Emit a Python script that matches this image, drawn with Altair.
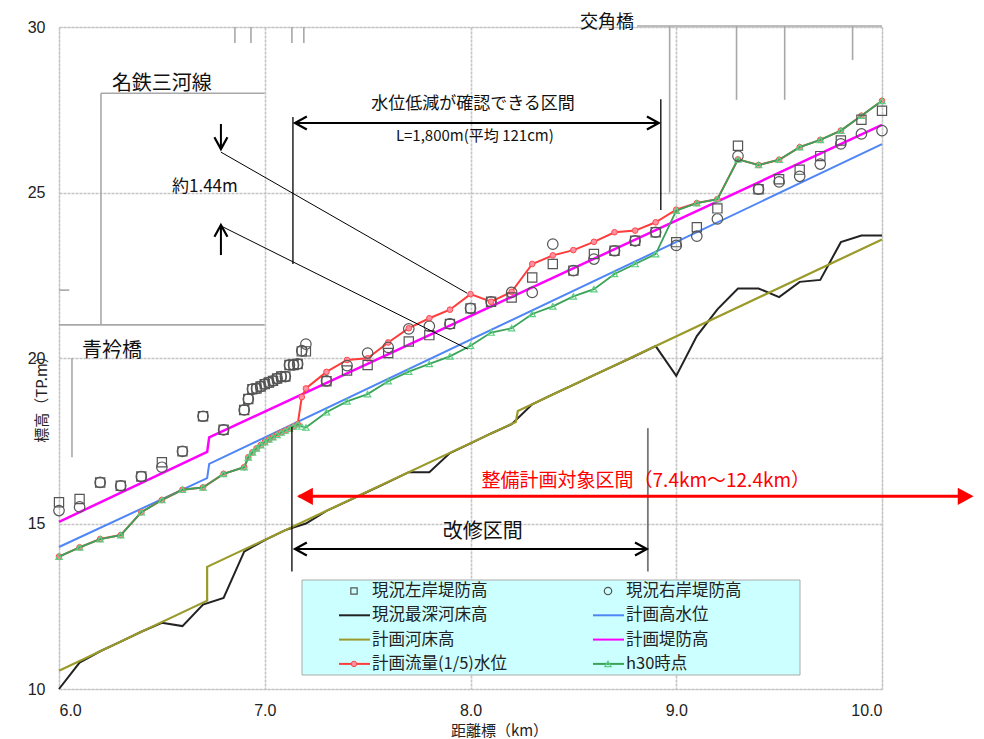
import altair as alt
import pandas as pd

# ---------------- data ----------------
levee_km = [6.0, 6.1, 6.2, 6.3, 6.4, 6.5, 6.6, 6.7, 6.8, 6.9,
            6.92, 6.94, 6.96, 6.98, 7.0, 7.02, 7.04, 7.06, 7.08, 7.1, 7.12, 7.14, 7.16, 7.18, 7.2,
            7.3, 7.4, 7.5, 7.6, 7.7, 7.8, 7.9, 8.0, 8.1, 8.2, 8.3, 8.4, 8.5, 8.6, 8.7, 8.8, 8.9,
            9.0, 9.1, 9.2, 9.3, 9.4, 9.5, 9.6, 9.7, 9.8, 9.9, 10.0]
left_levee = [15.64, 15.74, 16.24, 16.14, 16.42, 16.85, 17.18, 18.24, 17.83, 18.43,
              18.76, 19.06, 19.08, 19.14, 19.21, 19.26, 19.31, 19.38, 19.44, 19.44, 19.79, 19.79, 19.82, 20.2, 20.2,
              19.3, 19.62, 19.79, 20.15, 20.5, 20.69, 21.03, 21.5, 21.7, 21.83, 22.43, 22.84, 22.64, 23.14, 23.24, 23.54, 23.8,
              23.5, 23.95, 24.52, 26.41, 25.1, 25.4, 25.69, 26.1, 26.57, 27.2, 27.47]
right_levee = [15.39, 15.5, 16.24, 16.14, 16.42, 16.7, 17.18, 18.24, 17.83, 18.43,
               18.76, 19.06, 19.08, 19.14, 19.21, 19.26, 19.31, 19.38, 19.44, 19.44, 19.79, 19.79, 19.82, 20.22, 20.42,
               19.31, 19.77, 20.15, 20.32, 20.88, 20.96, 21.03, 21.5, 21.7, 21.98, 21.98, 23.44, 22.64, 22.99, 23.24, 23.54, 23.8,
               23.4, 23.68, 24.2, 26.1, 25.1, 25.32, 25.49, 25.86, 26.47, 26.77, 26.87]

flow_km = [6.0, 6.1, 6.2, 6.3, 6.4, 6.5, 6.6, 6.7, 6.8, 6.9,
           6.92, 6.94, 6.96, 6.98, 7.0, 7.02, 7.04, 7.06, 7.08, 7.1, 7.12, 7.14, 7.16,
           7.18, 7.2,
           7.3, 7.4, 7.5, 7.6, 7.7, 7.8, 7.9, 8.0, 8.1, 8.2, 8.3, 8.4, 8.5, 8.6, 8.7, 8.8, 8.9,
           9.0, 9.1, 9.2, 9.3, 9.4, 9.5, 9.6, 9.7, 9.8, 9.9, 10.0]
flow_1_5 = [14.0, 14.28, 14.53, 14.65, 15.34, 15.71, 16.02, 16.09, 16.5, 16.7,
            17.0, 17.15, 17.27, 17.37, 17.46, 17.54, 17.61, 17.68, 17.75, 17.81, 17.87, 17.93, 18.0,
            18.82, 19.08,
            19.58, 19.94, 19.99, 20.47, 20.9, 21.2, 21.46, 21.93, 21.7, 22.0, 22.84, 23.1, 23.26, 23.51, 23.8, 23.85, 24.1,
            24.48, 24.68, 24.8, 26.0, 25.83, 25.99, 26.37, 26.59, 26.87, 27.32, 27.77]
h30 = [14.0, 14.28, 14.53, 14.65, 15.34, 15.71, 16.02, 16.09, 16.5, 16.7,
       17.0, 17.15, 17.27, 17.37, 17.46, 17.54, 17.61, 17.68, 17.75, 17.81, 17.87, 17.93, 18.0,
       17.93, 17.9,
       18.36, 18.69, 18.91, 19.3, 19.59, 19.82, 20.05, 20.37, 20.77, 20.9, 21.33, 21.56, 21.86, 22.08, 22.54, 22.84, 23.14,
       24.45, 24.68, 24.8, 26.0, 25.83, 25.99, 26.37, 26.59, 26.87, 27.32, 27.77]

bed_km = [6.0, 6.1, 6.2, 6.3, 6.4, 6.5, 6.6, 6.7, 6.8, 6.9,
          7.0, 7.1, 7.2, 7.3, 7.4, 7.5, 7.6, 7.7, 7.8, 7.9,
          8.0, 8.1, 8.2, 8.3, 8.4, 8.5, 8.6, 8.7, 8.8, 8.9,
          9.0, 9.1, 9.2, 9.3, 9.4, 9.5, 9.6, 9.7, 9.8, 9.9, 10.0]
bed_now = [10.0, 10.8, 11.14, 11.43, 11.73, 12.0, 11.9, 12.55, 12.75, 14.15,
           14.5, 14.8, 15.0, 15.38, 15.67, 15.96, 16.25, 16.55, 16.55, 17.13,
           17.42, 17.72, 18.0, 18.6, 18.9, 19.19, 19.48, 19.77, 20.06, 20.36,
           19.46, 20.66, 21.47, 22.1, 22.1, 21.84, 22.3, 22.36, 23.5, 23.7, 23.7]

plan_bed_km = [6.0, 6.72, 6.72, 8.22, 8.23, 10.0]
plan_bed = [10.55, 12.67, 13.69, 18.07, 18.4, 23.58]
hwl_km = [6.0, 6.72, 6.73, 10.0]
hwl = [14.29, 16.37, 16.8, 26.46]
plan_levee_km = [6.0, 6.72, 6.73, 10.0]
plan_levee = [15.05, 17.16, 17.6, 27.04]

x_ticks = [6, 7, 8, 9, 10]
y_ticks = [10, 15, 20, 25, 30]

legend_labels = ["現況左岸堤防高", "現況右岸堤防高", "現況最深河床高", "計画高水位",
                 "計画河床高", "計画堤防高", "計画流量(1/5)水位", "h30時点"]

JP = "Noto Sans CJK JP"
W, H = 823, 662

# ---------------- scales / axes ----------------
xs = alt.Scale(domain=[6, 10], nice=False, zero=False)
ys = alt.Scale(domain=[10, 30], nice=False, zero=False)
axis_common = dict(grid=True, gridColor="#c4c4c4", gridWidth=1.6, gridDash=[3, 1],
                   domain=False, ticks=False, labelFont="Liberation Sans", labelFontSize=16,
                   labelColor="#222", titleFont=JP, titleFontSize=15, titleFontWeight="normal",
                   titleColor="#222", titleBaseline="middle")
x_axis = alt.Axis(values=x_ticks, format=".1f", title="距離標（km）", labelPadding=13,
                  titleX=440, titleY=41, **axis_common)
y_axis = alt.Axis(values=y_ticks, format="d", title="標高（TP.m）", labelPadding=14,
                  titleX=-18, titleY=368, **axis_common)


def X(f="x"):
    return alt.X(f"{f}:Q", scale=xs, axis=x_axis)


def Y(f="y"):
    return alt.Y(f"{f}:Q", scale=ys, axis=y_axis)


def series(km, vals):
    return pd.DataFrame({"x": km, "y": vals, "o": list(range(len(km)))})


def line(km, vals, color, width=2.0):
    return alt.Chart(series(km, vals)).mark_line(color=color, strokeWidth=width).encode(
        x=X(), y=Y(), order="o:Q")


layers = []

# ---------------- gray structure lines (bridges) ----------------
struct = pd.DataFrame({
    "x":  [6.855, 6.933, 7.132, 7.19, 6.204, 6.204, 6.063, 6.0, 6.0, 8.81, 8.968, 9.293, 9.527, 9.857],
    "x2": [6.855, 6.933, 7.132, 7.19, 7.0, 6.204, 6.063, 6.05, 7.0, 10.0, 8.968, 9.293, 9.527, 9.857],
    "y":  [30.0, 30.0, 30.0, 30.0, 28.0, 28.0, 20.0, 22.05, 21.0, 30.03, 30.03, 30.03, 30.03, 30.03],
    "y2": [29.52, 29.52, 29.52, 29.52, 28.0, 21.0, 17.0, 22.05, 21.0, 30.03, 25.0, 27.8, 27.8, 29.0],
})
layers.append(alt.Chart(struct).mark_rule(color="#a8a8a8", strokeWidth=1.6).encode(
    x=X(), x2="x2:Q", y=Y(), y2="y2:Q"))

# ---------------- data series ----------------
layers.append(line(bed_km, bed_now, "#222222", 2.0))
layers.append(line(plan_bed_km, plan_bed, "#9a9a2a", 2.2))
layers.append(line(hwl_km, hwl, "#4f86f7", 2.0))
layers.append(line(plan_levee_km, plan_levee, "#ff00ff", 2.5))

red_df = series(flow_km, flow_1_5)
layers.append(alt.Chart(red_df).mark_line(color="#ff3b3b", strokeWidth=2).encode(x=X(), y=Y(), order="o:Q"))
layers.append(alt.Chart(red_df).mark_point(shape="circle", filled=True, size=32, fill="#ff8fa3",
                                           stroke="#ff4a4a", strokeWidth=1, opacity=1).encode(x=X(), y=Y()))
green_df = series(flow_km, h30)
layers.append(alt.Chart(green_df).mark_line(color="#3aa35a", strokeWidth=1.8).encode(x=X(), y=Y(), order="o:Q"))
layers.append(alt.Chart(green_df).mark_point(shape="triangle-up", filled=False, size=40,
                                             stroke="#5ccf80", strokeWidth=1.2, opacity=1).encode(x=X(), y=Y()))

lev_l = series(levee_km, left_levee)
lev_r = series(levee_km, right_levee)
layers.append(alt.Chart(lev_l).mark_point(shape="square", filled=False, size=85, stroke="#555",
                                          strokeWidth=1.2, opacity=1).encode(x=X(), y=Y()))
layers.append(alt.Chart(lev_r).mark_point(shape="circle", filled=False, size=110, stroke="#555",
                                          strokeWidth=1.2, opacity=1).encode(x=X(), y=Y()))

# ---------------- annotations ----------------
rules = pd.DataFrame({
    "x":  [7.147, 7.137, 8.925, 6.787, 6.787, 6.787, 6.787, 7.147, 7.132],
    "x2": [8.915, 7.137, 8.925, 6.787, 6.787, 7.983, 7.987, 8.857, 7.132],
    "y":  [27.10, 27.28, 27.82, 27.07, 24.02, 26.22, 23.99, 14.23, 17.92],
    "y2": [27.10, 22.84, 24.47, 26.31, 23.11, 21.96, 20.27, 14.23, 13.55],
    "w":  [2.2, 1.3, 1.3, 2.0, 2.0, 1.0, 1.0, 2.2, 1.3],
})
layers.append(alt.Chart(rules).mark_rule(color="#000").encode(
    x=X(), x2="x2:Q", y=Y(), y2="y2:Q", strokeWidth=alt.StrokeWidth("w:Q", scale=None)))
layers.append(alt.Chart(pd.DataFrame({"x": [8.862], "y": [17.88], "y2": [13.55]})).mark_rule(
    color="#777", strokeWidth=1.8).encode(x=X(), y=Y(), y2="y2:Q"))

heads = pd.DataFrame({
    "x": [7.147, 8.915, 7.147, 8.857, 6.787, 6.787],
    "y": [27.10, 27.10, 14.23, 14.23, 26.31, 24.02],
    "shape": ["M1,-0.55L0,0L1,0.55", "M-1,-0.55L0,0L-1,0.55",
              "M1,-0.55L0,0L1,0.55", "M-1,-0.55L0,0L-1,0.55",
              "M-0.55,-1L0,0L0.55,-1", "M-0.55,1L0,0L0.55,1"],
})
layers.append(alt.Chart(heads).mark_point(filled=False, size=560, color="#000", strokeWidth=2.2,
                                          opacity=1).encode(
    x=X(), y=Y(), shape=alt.Shape("shape:N", scale=None)))

layers.append(alt.Chart(pd.DataFrame({"x": [7.165], "x2": [10.43], "y": [15.82]})).mark_rule(
    color="#ff0000", strokeWidth=3, clip=False).encode(x=X(), x2="x2:Q", y=Y()))
red_heads = pd.DataFrame({"x": [7.157, 10.445], "y": [15.82, 15.82],
                          "shape": ["M0,0L1,-0.55L1,0.55Z", "M0,0L-1,-0.55L-1,0.55Z"]})
layers.append(alt.Chart(red_heads).mark_point(filled=True, size=1000, color="#ff0000", opacity=1,
                                              clip=False).encode(
    x=X(), y=Y(), shape=alt.Shape("shape:N", scale=None)))

texts = pd.DataFrame({
    "x": [8.663, 6.50, 6.258, 8.012, 8.021, 6.709, 8.06],
    "y": [30.12, 28.28, 20.21, 27.67, 26.71, 25.17, 14.74],
    "t": ["交角橋", "名鉄三河線", "青衿橋", "水位低減が確認できる区間", "L=1,800m(平均 121cm)", "約1.44m", "改修区間"],
    "s": [18, 20, 20, 17, 15, 17, 20],
})
layers.append(alt.Chart(texts).mark_text(font=JP, color="#111", baseline="middle", align="center",
                                         clip=False).encode(
    x=X(), y=Y(), text="t:N", size=alt.Size("s:Q", scale=None)))
layers.append(alt.Chart(pd.DataFrame({"x": [8.852], "y": [16.28], "t": ["整備計画対象区間（7.4km～12.4km）"]})).mark_text(
    font=JP, color="#ff0000", fontSize=19, baseline="middle", align="center").encode(x=X(), y=Y(), text="t:N"))

# ---------------- manual legend (pixel positions) ----------------
box = pd.DataFrame({"a": [243], "b": [741], "c": [553], "d": [648]})
layers.append(alt.Chart(box).mark_rect(fill="#ccffff", stroke="#aaaaaa", strokeWidth=1).encode(
    x=alt.X("a:Q", scale=None), x2="b:Q", y=alt.Y("c:Q", scale=None), y2="d:Q"))

leg = pd.DataFrame({"label": legend_labels, "i": list(range(len(legend_labels)))})
leg["col"] = leg["i"] % 2
leg["row"] = leg["i"] // 2
leg["tx"] = leg["col"].map({0: 313, 1: 567})
leg["mx"] = leg["col"].map({0: 295, 1: 549})
leg["lx1"] = leg["col"].map({0: 280, 1: 534})
leg["lx2"] = leg["col"].map({0: 311, 1: 565})
leg["ty"] = 564 + leg["row"] * 24.3
leg["color"] = ["#555", "#555", "#222222", "#4f86f7", "#9a9a2a", "#ff00ff", "#ff3b3b", "#3aa35a"]

leg_lines = leg[leg["row"] > 0]
layers.append(alt.Chart(leg_lines).mark_rule(strokeWidth=2).encode(
    x=alt.X("lx1:Q", scale=None), x2="lx2:Q", y=alt.Y("ty:Q", scale=None),
    color=alt.Color("color:N", scale=None)))
layers.append(alt.Chart(leg[leg["i"] == 0]).mark_point(shape="square", filled=False, size=40, stroke="#555",
                                                       strokeWidth=1.2, opacity=1).encode(
    x=alt.X("mx:Q", scale=None), y=alt.Y("ty:Q", scale=None)))
layers.append(alt.Chart(leg[leg["i"] == 1]).mark_point(shape="circle", filled=False, size=55, stroke="#555",
                                                       strokeWidth=1.2, opacity=1).encode(
    x=alt.X("mx:Q", scale=None), y=alt.Y("ty:Q", scale=None)))
layers.append(alt.Chart(leg[leg["i"] == 6]).mark_point(shape="circle", filled=True, size=30, fill="#ff8fa3",
                                                       stroke="#ff4a4a", strokeWidth=1, opacity=1).encode(
    x=alt.X("mx:Q", scale=None), y=alt.Y("ty:Q", scale=None)))
layers.append(alt.Chart(leg[leg["i"] == 7]).mark_point(shape="triangle-up", filled=False, size=40,
                                                       stroke="#5ccf80", strokeWidth=1.2, opacity=1).encode(
    x=alt.X("mx:Q", scale=None), y=alt.Y("ty:Q", scale=None)))
layers.append(alt.Chart(leg).mark_text(font=JP, fontSize=16.5, color="#222", align="left",
                                       baseline="middle").encode(
    x=alt.X("tx:Q", scale=None), y=alt.Y("ty:Q", scale=None), text="label:N"))

chart = alt.layer(*layers).properties(
    width=W, height=H,
    autosize=alt.AutoSizeParams(type="none"),
    padding={"left": 51, "top": 19, "right": 94, "bottom": 50},
).configure_view(stroke="#9a9a9a", strokeWidth=1.5).configure(background="white")

chart.save("out.html", embed_options={"renderer": "svg", "actions": False})
